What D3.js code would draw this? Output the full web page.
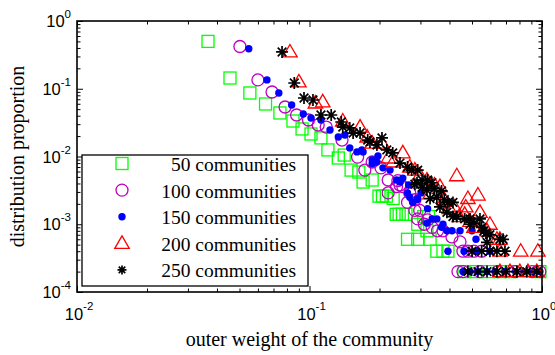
<!DOCTYPE html>
<html>
<head>
<meta charset="utf-8">
<script src="https://cdn.jsdelivr.net/npm/d3@7"></script>
<style>
  html, body { margin: 0; padding: 0; background: #fff; }
  svg { display: block; }
</style>
</head>
<body>
<svg id="chart" width="555" height="355"></svg>
<script>
// Distribution of outer community weight, five partitions (log-log)
// Each entry: [outer weight, distribution proportion]
const s50 = [
  [0.0366,0.5],[0.0455,0.144],[0.0554,0.0866],[0.0647,0.0596],[0.0746,0.0439],
  [0.0849,0.0334],[0.0929,0.0255],[0.1015,0.0215],[0.112,0.0188],[0.120,0.0125],
  [0.133,0.0095],[0.141,0.0105],[0.151,0.0063],[0.163,0.0059],[0.170,0.0042],
  [0.186,0.0045],[0.199,0.0026],[0.206,0.0026],[0.214,0.0026],[0.229,0.0024],
  [0.236,0.0014],[0.243,0.0014],[0.251,0.0014],[0.260,0.0014],[0.310,0.0013],
  [0.325,0.0013],[0.292,0.0010],[0.320,0.0008],[0.264,0.0006],[0.292,0.0006],
  [0.330,0.0006],[0.353,0.0004],[0.375,0.0004],[0.394,0.0004],
  [0.462,0.0002],[0.52,0.0002],[0.586,0.0002],[0.659,0.0002],[0.736,0.0002],[0.979,0.0002]
];
const s100 = [
  [0.0502,0.42],[0.060,0.135],[0.069,0.0895],[0.0785,0.0538],[0.088,0.041],
  [0.099,0.0346],[0.109,0.0292],[0.118,0.0272],[0.138,0.0175],[0.161,0.0098],
  [0.173,0.0063],[0.186,0.0083],[0.203,0.0068],[0.218,0.0045],[0.218,0.0029],
  [0.237,0.0036],[0.240,0.0044],[0.245,0.0038],[0.252,0.0036],[0.264,0.0021],
  [0.270,0.0029],[0.284,0.0023],[0.284,0.0016],[0.298,0.0016],[0.292,0.0012],
  [0.312,0.0010],[0.322,0.00116],[0.337,0.0009],[0.355,0.0008],[0.375,0.0008],
  [0.41,0.00065],[0.444,0.00055],[0.457,0.0004],[0.48,0.0004],[0.51,0.0004],[0.55,0.0004],
  [0.435,0.0002],[0.457,0.0002],[0.541,0.0002],[0.647,0.0002],[0.766,0.0002],[0.906,0.0002],[0.979,0.0002]
];
const s150 = [
  [0.0548,0.39],[0.0656,0.135],[0.0738,0.0866],[0.0838,0.0576],[0.094,0.0424],
  [0.1015,0.037],[0.112,0.0346],[0.1225,0.0246],[0.133,0.0194],[0.142,0.0208],
  [0.149,0.0134],[0.160,0.0117],[0.170,0.0117],[0.168,0.0125],[0.186,0.0089],
  [0.186,0.0078],[0.197,0.0102],[0.195,0.0083],[0.207,0.0068],[0.222,0.0063],
  [0.237,0.0045],[0.245,0.0042],[0.252,0.0048],[0.264,0.0029],[0.267,0.0038],
  [0.270,0.0025],[0.278,0.0021],[0.290,0.0023],[0.292,0.0024],[0.302,0.0029],
  [0.322,0.0017],[0.320,0.00104],[0.337,0.0012],[0.353,0.0012],[0.370,0.0009],
  [0.375,0.0010],[0.39,0.0008],[0.41,0.0008],[0.444,0.0008],[0.50,0.0008],[0.52,0.0006],
  [0.394,0.0004],[0.462,0.0004],[0.52,0.0004],[0.597,0.0004],
  [0.457,0.0002],[0.49,0.0002],[0.53,0.0002],[0.58,0.0002],[0.63,0.0002],
  [0.69,0.0002],[0.77,0.0002],[0.84,0.0002],[0.91,0.0002],[0.98,0.0002]
];
const s200 = [
  [0.0824,0.349],[0.090,0.126],[0.106,0.0616],[0.114,0.064],[0.139,0.0334],
  [0.165,0.0272],[0.177,0.0194],[0.186,0.0158],[0.205,0.0158],[0.218,0.0095],
  [0.229,0.0083],[0.252,0.0113],[0.270,0.0070],[0.284,0.0063],[0.298,0.0053],
  [0.320,0.0045],[0.345,0.0038],[0.364,0.0036],[0.33,0.0028],[0.38,0.0023],
  [0.40,0.0017],[0.42,0.0018],[0.44,0.0013],[0.43,0.0052],[0.465,0.0014],
  [0.47,0.0018],[0.48,0.0024],[0.49,0.0011],[0.51,0.0009],[0.53,0.0027],
  [0.541,0.0015],[0.58,0.0008],[0.597,0.0010],[0.64,0.0006],[0.659,0.0006],
  [0.66,0.0004],[0.81,0.0004],[0.96,0.0004],
  [0.659,0.0002],[0.728,0.0002],[0.803,0.0002],[0.87,0.0002],[0.95,0.0002]
];
const s250 = [
  [0.0762,0.349],[0.086,0.1216],[0.0947,0.073],[0.1035,0.0682],[0.112,0.041],
  [0.124,0.041],[0.137,0.0323],[0.139,0.0272],[0.149,0.0264],[0.154,0.0222],
  [0.165,0.0222],[0.178,0.0175],[0.182,0.0164],[0.195,0.0148],[0.205,0.0188],
  [0.215,0.0125],[0.228,0.0113],[0.245,0.0080],[0.264,0.0070],[0.275,0.0063],
  [0.292,0.0063],[0.284,0.0039],[0.29,0.0041],[0.305,0.0045],[0.322,0.0045],
  [0.305,0.0035],[0.32,0.0032],[0.33,0.0024],[0.336,0.0041],[0.345,0.0034],
  [0.353,0.0025],[0.37,0.0031],[0.38,0.0023],[0.364,0.0018],[0.39,0.0015],
  [0.394,0.0021],[0.414,0.0021],[0.414,0.0013],[0.43,0.0013],[0.465,0.0012],
  [0.49,0.0012],[0.49,0.0010],[0.51,0.00104],[0.541,0.0012],[0.55,0.0009],
  [0.563,0.0008],[0.574,0.00074],[0.58,0.00054],[0.597,0.0007],[0.659,0.0006],
  [0.68,0.0006],
  [0.50,0.0004],[0.55,0.0004],[0.597,0.0004],[0.64,0.0004],[0.693,0.0004],
  [0.48,0.0002],[0.53,0.0002],[0.58,0.0002],[0.64,0.0002],[0.70,0.0002],
  [0.78,0.0002],[0.86,0.0002],[0.95,0.0002]
];

const seriesNames = ["50 communities","100 communities","150 communities","200 communities","250 communities"];
const seriesData = [s50, s100, s150, s200, s250];
const seriesColors = ["#00ff00","#bf00bf","#0000ff","#ff0000","#000000"];
const seriesShapes = ["square","circle","dot","triangle","star"];

const xTickValues = [0.01, 0.1, 1];
const xTickExps = ["-2","-1","0"];
const yTickValues = [1e-4, 1e-3, 1e-2, 1e-1, 1];
const yTickExps = ["-4","-3","-2","-1","0"];
const xTitle = "outer weight of the community";
const yTitle = "distribution proportion";

const svg = d3.select("#chart");
const L = 77, R = 542, T = 21, B = 292;

const x = d3.scaleLog().domain([0.01, 1]).range([L, R]);
const y = d3.scaleLog().domain([1e-4, 1]).range([B, T]);

// marker drawing
function drawMarker(g, shape, color, cx, cy, scale) {
  const k = scale || 1;
  if (shape === "square") {
    const s = 12 * k;
    g.append("rect").attr("x", cx - s/2).attr("y", cy - s/2).attr("width", s).attr("height", s)
      .attr("fill", "none").attr("stroke", color).attr("stroke-width", 1.3);
  } else if (shape === "circle") {
    g.append("circle").attr("cx", cx).attr("cy", cy).attr("r", 6 * k)
      .attr("fill", "none").attr("stroke", color).attr("stroke-width", 1.3);
  } else if (shape === "dot") {
    g.append("circle").attr("cx", cx).attr("cy", cy).attr("r", 3.7 * k)
      .attr("fill", color).attr("stroke", "none");
  } else if (shape === "triangle") {
    const w = 14.5 * k, h = 12.5 * k;
    g.append("path")
      .attr("d", `M${cx},${cy - h*0.6}L${cx + w/2},${cy + h*0.4}L${cx - w/2},${cy + h*0.4}Z`)
      .attr("fill", "none").attr("stroke", color).attr("stroke-width", 1.3);
  } else if (shape === "star") {
    const r = 6 * k, d = r * 0.72;
    g.append("path")
      .attr("d", `M${cx - r},${cy}L${cx + r},${cy}M${cx},${cy - r}L${cx},${cy + r}` +
                 `M${cx - d},${cy - d}L${cx + d},${cy + d}M${cx - d},${cy + d}L${cx + d},${cy - d}`)
      .attr("fill", "none").attr("stroke", color).attr("stroke-width", 1.7);
  }
}

// data marks
const plot = svg.append("g");
seriesData.forEach((data, i) => {
  const g = plot.append("g").attr("class", "series-" + i);
  data.forEach(d => drawMarker(g, seriesShapes[i], seriesColors[i], x(d[0]), y(d[1])));
});

// axes: inward ticks on all four sides
const xMinor = x.ticks().filter(v => !xTickValues.includes(v));
const yMinor = y.ticks().filter(v => !yTickValues.some(t => Math.abs(t - v) < 1e-12));

function tickAxis(axisFn, scale, values, size, transform) {
  const g = svg.append("g").attr("transform", transform)
    .call(axisFn(scale).tickValues(values).tickSizeInner(-size).tickSizeOuter(0).tickFormat(""));
  g.select(".domain").remove();
  g.selectAll(".tick line").attr("stroke", "#000").attr("stroke-width", 1);
}
tickAxis(d3.axisBottom, x, xTickValues, 6, `translate(0,${B})`);
tickAxis(d3.axisBottom, x, xMinor, 3.5, `translate(0,${B})`);
tickAxis(d3.axisTop, x, xTickValues, 6, `translate(0,${T})`);
tickAxis(d3.axisTop, x, xMinor, 3.5, `translate(0,${T})`);
tickAxis(d3.axisLeft, y, yTickValues, 6, `translate(${L},0)`);
tickAxis(d3.axisLeft, y, yMinor, 3.5, `translate(${L},0)`);
tickAxis(d3.axisRight, y, yTickValues, 6, `translate(${R},0)`);
tickAxis(d3.axisRight, y, yMinor, 3.5, `translate(${R},0)`);

svg.append("rect").attr("x", L).attr("y", T).attr("width", R - L).attr("height", B - T)
  .attr("fill", "none").attr("stroke", "#000").attr("stroke-width", 1.6);

// tick labels with exponents
const tickFont = "'Liberation Sans', Arial, sans-serif";
xTickValues.forEach((v, i) => {
  const t = svg.append("text").attr("x", x(v) + 2).attr("y", 320)
    .attr("text-anchor", "middle").attr("font-family", tickFont).attr("font-size", 16.5).attr("fill", "#000");
  t.append("tspan").text("10");
  t.append("tspan").attr("dy", -10).attr("font-size", 11.5).text(xTickExps[i]);
});
yTickValues.forEach((v, i) => {
  const t = svg.append("text").attr("x", 71).attr("y", y(v) + 6)
    .attr("text-anchor", "end").attr("font-family", tickFont).attr("font-size", 16.5).attr("fill", "#000");
  t.append("tspan").text("10");
  t.append("tspan").attr("dy", -9).attr("font-size", 11.5).text(yTickExps[i]);
});

// axis titles
const serif = "'Liberation Serif', 'Times New Roman', serif";
svg.append("text").attr("x", (L + R) / 2).attr("y", 346).attr("text-anchor", "middle")
  .attr("font-family", serif).attr("font-size", 20).attr("fill", "#000").text(xTitle);
svg.append("text").attr("transform", `translate(24,${(T + B) / 2}) rotate(-90)`)
  .attr("text-anchor", "middle").attr("font-family", serif).attr("font-size", 20).attr("fill", "#000").text(yTitle);

// legend
const lg = svg.append("g");
lg.append("rect").attr("x", 82).attr("y", 155).attr("width", 226).attr("height", 131)
  .attr("fill", "#fff").attr("stroke", "#000").attr("stroke-width", 1.3);
seriesNames.forEach((name, i) => {
  const cy = 163.5 + i * 26.6;
  drawMarker(lg, seriesShapes[i], seriesColors[i], 122, cy, i === 4 ? 0.75 : 1);
  lg.append("text").attr("x", 296).attr("y", cy + 7.5).attr("text-anchor", "end")
    .attr("font-family", serif).attr("font-size", 19.5).attr("fill", "#000").text(name);
});
</script>
</body>
</html>
